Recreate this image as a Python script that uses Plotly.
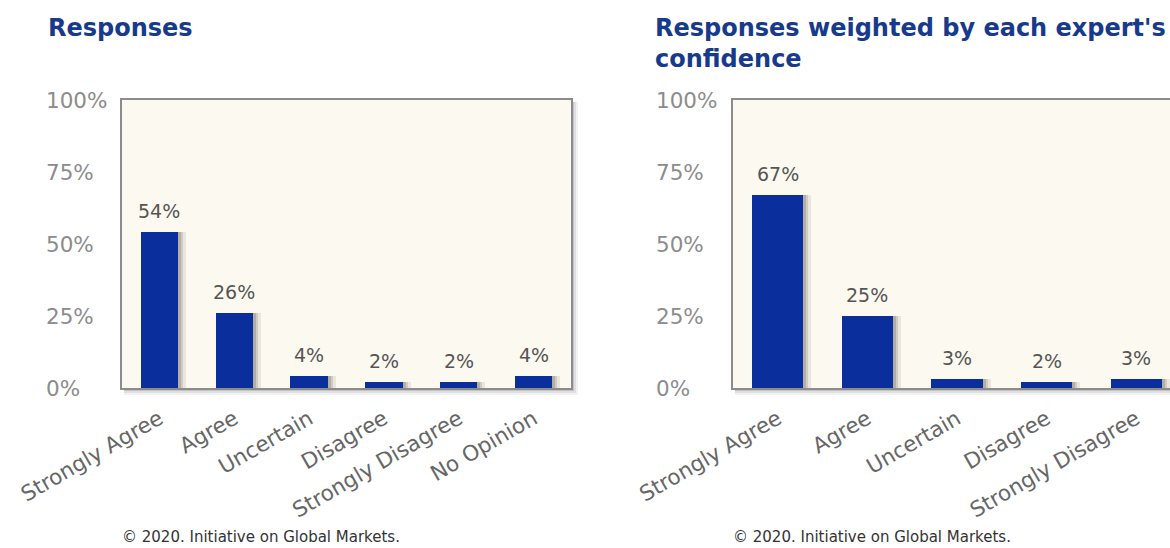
import plotly.graph_objects as go

# Canvas size in pixels
W, H = 1170, 548

# ---- data ----
categories_left = ["Strongly Agree", "Agree", "Uncertain", "Disagree",
                   "Strongly Disagree", "No Opinion"]
responses = [54, 26, 4, 2, 2, 4]

categories_right = ["Strongly Agree", "Agree", "Uncertain", "Disagree",
                    "Strongly Disagree"]
weighted = [67, 25, 3, 2, 3]

y_ticks = [0, 25, 50, 75, 100]
y_tick_labels = ["0%", "25%", "50%", "75%", "100%"]

title_left = "Responses"
title_right = "Responses weighted by each expert's<br>confidence"
credit = "© 2020. Initiative on Global Markets."

# ---- styling ----
FONT = "DejaVu Sans, Verdana, sans-serif"
BAR = "#0a2f9c"
PLOT_BG = "#fcf9f0"
BORDER = "#8c8c8c"
TITLE_C = "#173a8c"

# panel boxes in pixels: (left, right, top, bottom); right panel runs past the page edge
panels = [
    dict(cats=categories_left, vals=responses, box=(122, 571, 100, 388),
         title=title_left, title_x=46, label_x=44, bar_w=0.5, ax=""),
    dict(cats=categories_right, vals=weighted, box=(733, 1181, 100, 388),
         title=title_right, title_x=653, label_x=654, bar_w=0.57, ax="2"),
]


def fx(p):
    return p / W


def fy(p):
    return 1 - p / H


fig = go.Figure()
shapes = []
annotations = []

for i, pn in enumerate(panels):
    x0, x1, y0, y1 = pn["box"]
    n = len(pn["cats"])
    cat_px = (x1 - x0) / n
    vis_x1 = min(x1, W)
    xr_end = -0.5 + (vis_x1 - x0) / cat_px
    xa = "x" + pn["ax"]
    ya = "y" + pn["ax"]
    bw = pn["bar_w"]

    # soft drop shadow behind the plot box, then the cream panel itself
    for k, a in [(7, 0.05), (5, 0.08), (3, 0.12)]:
        shapes.append(dict(type="rect", xref="paper", yref="paper", layer="below",
                           x0=fx(x0 + 2), x1=fx(x1 + k), y0=fy(y1 + k), y1=fy(y0 + 2),
                           line=dict(width=0), fillcolor=f"rgba(0,0,0,{a})"))
    shapes.append(dict(type="rect", xref="paper", yref="paper", layer="below",
                       x0=fx(x0), x1=fx(x1), y0=fy(y1), y1=fy(y0),
                       line=dict(width=0), fillcolor=PLOT_BG))

    # bar shadows to the right of each bar
    for shift_px, a in [(8, 0.10), (5, 0.16), (3, 0.22)]:
        fig.add_trace(go.Bar(x=pn["cats"], y=pn["vals"], width=bw,
                             offset=-bw / 2 + shift_px / cat_px,
                             marker=dict(color=f"rgba(80,70,60,{a})", line=dict(width=0)),
                             xaxis=xa, yaxis=ya, hoverinfo="skip", showlegend=False))
    fig.add_trace(go.Bar(x=pn["cats"], y=pn["vals"], width=bw, offset=-bw / 2,
                         marker=dict(color=BAR, line=dict(width=0)),
                         xaxis=xa, yaxis=ya, showlegend=False))

    xkey = "xaxis" + pn["ax"]
    ykey = "yaxis" + pn["ax"]
    fig.update_layout({
        xkey: dict(domain=[fx(x0), fx(vis_x1)], range=[-0.5, xr_end], anchor=ya,
                   type="category", categoryorder="array", categoryarray=pn["cats"],
                   showline=True, linecolor=BORDER, linewidth=2, mirror=True,
                   showgrid=False, zeroline=False, tickangle=-30, automargin=False,
                   ticks="outside", ticklen=8, tickcolor="rgba(0,0,0,0)",
                   tickfont=dict(family=FONT, size=21.5, color="#666666"),
                   fixedrange=True),
        ykey: dict(domain=[fy(y1), fy(y0)], range=[0, 100], anchor=xa,
                   showline=True, linecolor=BORDER, linewidth=2, mirror=(i == 0),
                   showgrid=False, zeroline=False, showticklabels=False,
                   automargin=False, tickvals=y_ticks, ticks="", fixedrange=True),
    })

    # y tick labels, left-aligned
    for v, lab in zip(y_ticks, y_tick_labels):
        annotations.append(dict(x=fx(pn["label_x"]), xref="paper", y=v, yref=ya,
                                xanchor="left", yanchor="middle", showarrow=False,
                                text=lab, font=dict(family=FONT, size=21.5, color="#8c8c8c")))

    # value labels above bars
    for c, v in zip(pn["cats"], pn["vals"]):
        annotations.append(dict(x=c, xref=xa, y=v, yref=ya, yanchor="bottom",
                                yshift=8, showarrow=False, text=f"{v}%",
                                font=dict(family=FONT, size=19, color="#555555")))

    # panel title
    annotations.append(dict(x=fx(pn["title_x"]), xref="paper", y=fy(12), yref="paper",
                            xanchor="left", yanchor="top", align="left", showarrow=False,
                            text=f"<b>{pn['title']}</b>",
                            font=dict(family=FONT, size=24, color=TITLE_C)))

    # credit line under the panel
    annotations.append(dict(x=fx(x0 - 2), xref="paper", y=fy(537), yref="paper",
                            xanchor="left", yanchor="middle", showarrow=False,
                            text=credit, font=dict(family=FONT, size=15, color="#333333")))

fig.update_layout(
    template="none",
    width=W, height=H,
    margin=dict(l=0, r=0, t=0, b=0, pad=0),
    paper_bgcolor="white", plot_bgcolor="rgba(0,0,0,0)",
    barmode="overlay", bargap=0,
    shapes=shapes, annotations=annotations,
    showlegend=False,
)

fig.write_html("out.html", config={"displayModeBar": False})
